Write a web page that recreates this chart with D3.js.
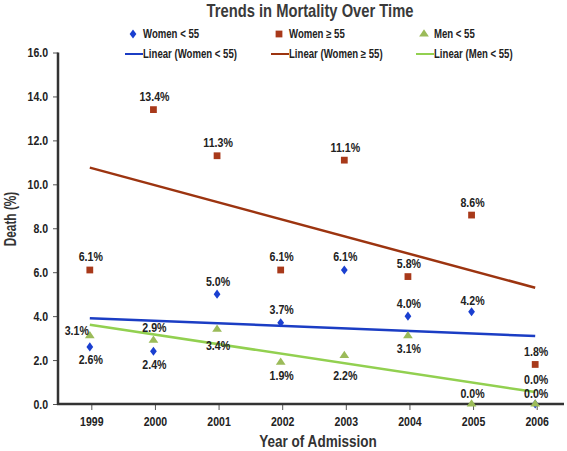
<!DOCTYPE html>
<html><head><meta charset="utf-8">
<script src="https://cdn.jsdelivr.net/npm/d3@7"></script>
<style>
body{margin:0;background:#fff;}
svg{display:block;font-family:"Liberation Sans",Arial,sans-serif;font-weight:bold;}
</style></head><body>
<svg id="c" width="567" height="451"></svg>
<script>
const years = ["1999","2000","2001","2002","2003","2004","2005","2006"];
const womenUnder55 = [2.6, 2.4, 5.0, 3.7, 6.1, 4.0, 4.2, 0.0];
const womenOver55 = [6.1, 13.4, 11.3, 6.1, 11.1, 5.8, 8.6, 1.8];
const menUnder55 = [3.1, 2.9, 3.4, 1.9, 2.2, 3.1, 0.0, 0.0];
const yTicks = [0, 2, 4, 6, 8, 10, 12, 14, 16];
const seriesNames = ["Women < 55", "Women \u2265 55", "Men < 55"];

// label placement keys (layout only)
const placeW55 = ["b","b","a","a","a","a","s","h"];
const placeWO55 = ["a","a","a","a","a","a","a","a"];
const placeM55 = ["l","a","c","b","B","b","s","s"];

const svg = d3.select("#c");
const L = 58, R = 567, T = 52.5, B = 404;
const x = d3.scaleBand().domain(years).range([L, R]);
const y = d3.scaleLinear().domain([0,16]).range([B, T]);
const cx = d => x(d) + x.bandwidth()/2;

const colors = {
  w55:{mark:"#1a3fd0", line:"#1b3dc4"},
  wo55:{mark:"#a8391a", line:"#9c3410"},
  m55:{mark:"#9bbb59", line:"#92d050"}
};

// condensed text helper
function ctext(g, tx, ty, str, size, sx, anchor, fill){
  return g.append("text").attr("transform",`translate(${tx},${ty}) scale(${sx},1)`)
    .attr("text-anchor",anchor||"middle").attr("font-size",size).attr("fill",fill||"#222").text(str);
}

// title
ctext(svg, 310, 16.5, "Trends in Mortality Over Time", 18, 0.82, "middle", "#3a3a3a");

// axes
const yAxis = d3.axisLeft(y).tickValues(yTicks).tickFormat(d3.format(".1f")).tickSize(5).tickPadding(5);
const gy = svg.append("g").attr("transform",`translate(${L},0)`).call(yAxis);
gy.select(".domain").remove();
gy.selectAll("line").attr("stroke","#555").attr("stroke-width",1);
gy.selectAll("text").attr("font-size",13).attr("fill","#222").attr("font-family",null)
  .attr("x",-10/0.81).attr("transform","scale(0.81,1)");

const xAxis = d3.axisBottom(x).tickSize(6).tickPadding(6);
const gx = svg.append("g").attr("transform",`translate(0,${B})`).call(xAxis);
gx.select(".domain").remove();
gx.selectAll(".tick").attr("transform", d => `translate(${cx(d)+2},0)`);
gx.selectAll("line").attr("stroke","#555").attr("stroke-width",1);
gx.selectAll("text").attr("font-size",13).attr("fill","#222").attr("font-family",null)
  .attr("y",13).attr("transform","scale(0.81,1)");

svg.append("line").attr("x1",L).attr("x2",L).attr("y1",T).attr("y2",B+1)
  .attr("stroke","#333").attr("stroke-width",2.5);
svg.append("line").attr("x1",L-1).attr("x2",564).attr("y1",B).attr("y2",B)
  .attr("stroke","#333").attr("stroke-width",2.5);

// axis titles
svg.append("text").attr("transform",`translate(15.5,219) rotate(-90) scale(0.74,1)`).attr("text-anchor","middle")
  .attr("font-size",16).attr("fill","#333").text("Death (%)");
ctext(svg, 318, 446.5, "Year of Admission", 16.5, 0.82, "middle", "#333");

// linear trends (least squares from the data)
function trend(vals){
  const n = vals.length, xs = vals.map((_,i)=>i+1);
  const mx = d3.mean(xs), my = d3.mean(vals);
  const sxy = d3.sum(xs.map((xi,i)=>(xi-mx)*(vals[i]-my)));
  const sxx = d3.sum(xs.map(xi=>(xi-mx)*(xi-mx)));
  const b = sxy/sxx, a = my - b*mx;
  return [[years[0], a+b*1],[years[n-1], a+b*n]];
}
const line = d3.line().x(d=>cx(d[0])).y(d=>y(d[1]));
[[womenUnder55,colors.w55.line],[womenOver55,colors.wo55.line],[menUnder55,colors.m55.line]].forEach(([v,c])=>{
  svg.append("path").attr("d",line(trend(v))).attr("fill","none").attr("stroke",c).attr("stroke-width",2.5);
});

// markers
const diamond = d3.symbol().type(d3.symbolDiamond).size(30);
const square = d3.symbol().type(d3.symbolSquare).size(46);
const triangle = d3.symbol().type(d3.symbolTriangle).size(34);
const symScale = ["scale(1.15,0.9)", "", "scale(1.1,0.95)"];

function drawSeries(vals, sym, col, sc){
  svg.append("g").selectAll("path").data(vals).join("path")
    .attr("d",sym).attr("fill",col)
    .attr("transform",(d,i)=>`translate(${cx(years[i])},${y(d)}) ${sc}`);
}
drawSeries(womenUnder55, diamond, colors.w55.mark, symScale[0]);
drawSeries(womenOver55, square, colors.wo55.mark, symScale[1]);
drawSeries(menUnder55, triangle, colors.m55.mark, symScale[2]);

// data labels
const fmt = d => d3.format(".1f")(d) + "%";
const offs = {a:[1,-13], s:[1,-11], h:[1,-24.5], b:[1,13], c:[1,16], B:[1,20], l:[-13,-5]};
function drawLabels(vals, place){
  const g = svg.append("g");
  vals.forEach((d,i)=>{
    const o = offs[place[i]];
    ctext(g, cx(years[i]) + o[0], y(d) + o[1] + 4.5, fmt(d), 12.5, 0.85, "middle", "#222");
  });
}
drawLabels(womenUnder55, placeW55);
drawLabels(womenOver55, placeWO55);
drawLabels(menUnder55, placeM55);

// legend
const lg = svg.append("g");
const legCols = [143, 289, 434];
const legSyms = [diamond, square, triangle];
const legMark = [colors.w55.mark, colors.wo55.mark, colors.m55.mark];
const legLine = [colors.w55.line, colors.wo55.line, colors.m55.line];
seriesNames.forEach((name,i)=>{
  lg.append("path").attr("d",legSyms[i]).attr("fill",legMark[i]).attr("transform",`translate(${legCols[i]-10},34) ${symScale[i]}`);
  ctext(lg, legCols[i], 38.3, name, 12, 0.8, "start", "#222");
  lg.append("line").attr("x1",legCols[i]-18).attr("x2",legCols[i]).attr("y1",54).attr("y2",54).attr("stroke",legLine[i]).attr("stroke-width",2);
  ctext(lg, legCols[i], 58.3, `Linear (${name})`, 12, 0.8, "start", "#222");
});
</script>
</body></html>
